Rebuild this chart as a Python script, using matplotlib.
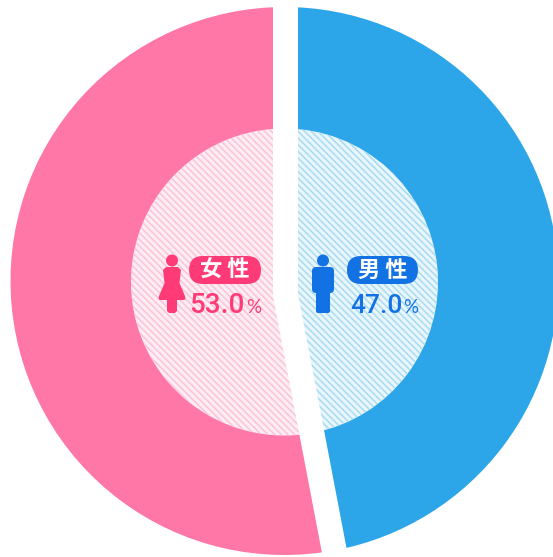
#!/usr/bin/env python3
import numpy as np
import matplotlib
matplotlib.use("Agg")
import matplotlib.pyplot as plt
from matplotlib.patches import Circle, FancyBboxPatch, Polygon

# 男性 then 女性, clockwise from the top
labels = ["男 性", "女 性"]
shares = [47.0, 53.0]
share_text = ["47.0", "53.0"]
slice_colors = ["#2ca6e9", "#ff77a7"]
tint_colors = ["#e9f6fc", "#feeef4"]
hatch_colors = ["#abdcf2", "#fcc4d8"]
dark_colors = ["#1272e4", "#ff3b77"]

W, H = 553, 557
CX, CY = 284.5, 281
R_OUT, R_IN = 274, 153.5
GAP = 25  # px

fig = plt.figure(figsize=(W / 100, H / 100), dpi=100)
ax = fig.add_axes([0, 0, 1, 1])
plt.rcParams["hatch.linewidth"] = 1.15

ax.pie(shares, colors=slice_colors, startangle=-90, counterclock=True,
       radius=R_OUT, center=(CX, CY), wedgeprops={"linewidth": 0})
inner, _ = ax.pie(shares, colors=tint_colors, startangle=-90, counterclock=True,
                  radius=R_IN, center=(CX, CY + 1), wedgeprops={"linewidth": 0})
for w, c in zip(inner, hatch_colors):
    w.set_edgecolor(c)
    w.set_linewidth(0)
    w.set_hatch("\\" * 5)

ax.set_xlim(0, W)
ax.set_ylim(H, 0)
ax.set_aspect("auto")
ax.axis("off")

# white gap between the two halves, the lower leg starts a bit under the centre
ang = np.deg2rad(-90 + shares[0] / sum(shares) * 360)
L = R_OUT + 20
bend_y = CY + 14
ax.plot([CX + 1, CX + 1, CX + 1 + L * np.cos(ang)], [CY - L, bend_y, bend_y + L * np.sin(ang)],
        color="white", lw=GAP * 0.72, solid_joinstyle="miter", solid_capstyle="butt", zorder=3)


def pill(x0, x1, y0, y1, color, text):
    r = (y1 - y0) / 2
    ax.add_patch(FancyBboxPatch((x0 + r, y0 + r), x1 - x0 - 2 * r, 0,
                                boxstyle=f"round,pad={r},rounding_size={r}",
                                fc=color, ec="none", zorder=4))
    ax.text((x0 + x1) / 2, (y0 + y1) / 2, text, color="white", fontsize=16, fontweight="bold",
            family=["Noto Sans CJK JP", "DejaVu Sans"], ha="center", va="center", zorder=5)


def man(cx, color):
    ax.add_patch(Circle((cx, 260.5), 6, fc=color, ec="none", zorder=4))
    ax.add_patch(FancyBboxPatch((cx - 8, 270), 16, 20, boxstyle="round,pad=3,rounding_size=4",
                                fc=color, ec="none", zorder=4))
    ax.add_patch(FancyBboxPatch((cx - 5.5, 285), 11, 26.5, boxstyle="round,pad=1.5,rounding_size=2",
                                fc=color, ec="none", zorder=4))


def woman(cx, color):
    ax.add_patch(Circle((cx, 260.5), 6, fc=color, ec="none", zorder=4))
    ax.add_patch(Polygon([(cx - 6, 267), (cx + 6, 267), (cx + 9, 270), (cx + 7.5, 283), (cx + 13, 296),
                          (cx + 13.5, 299), (cx + 12, 300), (cx + 5, 300), (cx + 5, 311), (cx + 3, 313),
                          (cx - 3, 313), (cx - 5, 311), (cx - 5, 300), (cx - 12, 300), (cx - 13.5, 299),
                          (cx - 13, 296), (cx - 7.5, 283), (cx - 9, 270)],
                         fc=color, ec="none", zorder=4))


man(323, dark_colors[0])
woman(172, dark_colors[1])
pill(347, 418, 256, 284, dark_colors[0], labels[0])
pill(189, 261, 256, 284, dark_colors[1], labels[1])

for x, x_pct, size, t, c in zip([350, 189], [403, 246], [19, 20], share_text, dark_colors):
    ax.text(x, 313, t, color=c, fontsize=size, fontweight="medium", family="Roboto",
            va="baseline", ha="left", zorder=5)
    ax.text(x_pct, 313, "%", color=c, fontsize=13.5, family="Lato", va="baseline", ha="left", zorder=5)

fig.savefig("out.png", dpi=100)
